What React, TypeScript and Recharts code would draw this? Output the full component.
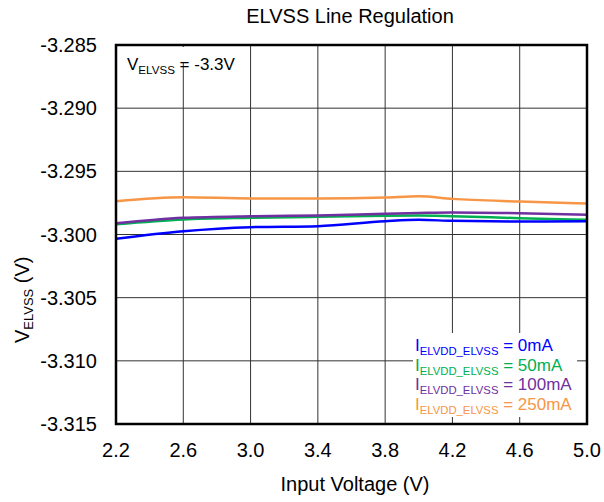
import React from "react";
import { LineChart, Line, XAxis, YAxis, CartesianGrid } from "recharts";

// Input voltage sweep (V)
const inputVoltage = [2.2, 2.6, 3.0, 3.4, 3.8, 4.0, 4.2, 4.6, 5.0];

// Output voltage V_ELVSS (V) for each load current
const load0mA = [-3.30034, -3.29974, -3.29942, -3.29934, -3.29895, -3.29884, -3.29892, -3.29897, -3.29895];
const load50mA = [-3.29919, -3.29881, -3.29868, -3.2986, -3.29852, -3.2985, -3.29855, -3.29871, -3.29884];
const load100mA = [-3.29911, -3.29868, -3.29855, -3.2985, -3.29836, -3.2983, -3.29826, -3.29832, -3.29844];
const load250mA = [-3.29737, -3.29705, -3.29715, -3.29715, -3.29707, -3.29697, -3.29718, -3.29739, -3.29755];

const xTicks = [2.2, 2.6, 3.0, 3.4, 3.8, 4.2, 4.6, 5.0];
const yTicks = [-3.315, -3.31, -3.305, -3.3, -3.295, -3.29, -3.285];

const legendItems = [
  { label: "0mA", color: "#0000FF" },
  { label: "50mA", color: "#00B050" },
  { label: "100mA", color: "#7030A0" },
  { label: "250mA", color: "#F79646" },
];

const rows = inputVoltage.map((v, i) => ({
  vin: v,
  i0: load0mA[i],
  i50: load50mA[i],
  i100: load100mA[i],
  i250: load250mA[i],
}));

const FONT = "'Liberation Sans', Arial, sans-serif";
const W = 604;
const H = 502;
const PLOT = { left: 116, top: 45, right: 587, bottom: 424 };

export default function App() {
  return (
    <div style={{ position: "absolute", left: 0, top: 0, width: W, height: H, background: "#fff", fontFamily: FONT }}>
      <LineChart
        width={W}
        height={H}
        data={rows}
        margin={{ top: PLOT.top, right: W - PLOT.right, bottom: 0, left: 0 }}
      >
        <CartesianGrid stroke="#333" strokeWidth={1} />
        <XAxis
          dataKey="vin"
          type="number"
          domain={[2.2, 5.0]}
          ticks={xTicks}
          tickFormatter={(v: number) => v.toFixed(1)}
          height={H - PLOT.bottom}
          axisLine={false}
          tickLine={false}
          tickSize={0}
          tickMargin={19}
          tick={{ fill: "#000", fontSize: 20, fontFamily: FONT }}
        />
        <YAxis
          type="number"
          domain={[-3.315, -3.285]}
          ticks={yTicks}
          tickFormatter={(v: number) => v.toFixed(3)}
          width={PLOT.left}
          axisLine={false}
          tickLine={false}
          tickSize={0}
          tickMargin={19}
          allowDataOverflow
          tick={{ fill: "#000", fontSize: 20, fontFamily: FONT }}
        />
        <Line type="monotone" dataKey="i250" stroke="#F79646" strokeWidth={2.5} dot={false} isAnimationActive={false} />
        <Line type="monotone" dataKey="i50" stroke="#00B050" strokeWidth={2.5} dot={false} isAnimationActive={false} />
        <Line type="monotone" dataKey="i100" stroke="#7030A0" strokeWidth={2.5} dot={false} isAnimationActive={false} />
        <Line type="monotone" dataKey="i0" stroke="#0000FF" strokeWidth={2.5} dot={false} isAnimationActive={false} />
      </LineChart>

      <svg
        width={W}
        height={H}
        style={{ position: "absolute", left: 0, top: 0, pointerEvents: "none" }}
        fontFamily={FONT}
      >
        {/* backing boxes behind the in-plot texts */}
        <rect x={122} y={47} width={120} height={16} fill="#fff" />
        <rect x={413} y={333} width={164} height={84} fill="#fff" />

        {/* plot frame */}
        <rect
          x={PLOT.left}
          y={PLOT.top}
          width={PLOT.right - PLOT.left}
          height={PLOT.bottom - PLOT.top}
          fill="none"
          stroke="#000"
          strokeWidth={2.5}
        />

        <text x={350} y={23} textAnchor="middle" fontSize={20} fill="#000">
          ELVSS Line Regulation
        </text>

        <text x={355} y={491} textAnchor="middle" fontSize={20} fill="#000">
          Input Voltage (V)
        </text>

        <text x={29} y={343} transform="rotate(-90 29 343)" fontSize={20} fill="#000">
          V
          <tspan fontSize={13} dy={4}>ELVSS</tspan>
          <tspan fontSize={20} dy={-4}> (V)</tspan>
        </text>

        <text x={127} y={70} fontSize={17} fill="#000">
          V
          <tspan fontSize={11.6} dy={3.5}>ELVSS</tspan>
          <tspan fontSize={17} dy={-3.5}> = -3.3V</tspan>
        </text>

        {legendItems.map((item, i) => (
          <text key={item.label} x={415} y={351 + i * 19.6} fontSize={17} fill={item.color}>
            I
            <tspan fontSize={11.3} dy={4}>ELVDD_ELVSS</tspan>
            <tspan fontSize={17} dy={-4}>{` = ${item.label}`}</tspan>
          </text>
        ))}
      </svg>
    </div>
  );
}
